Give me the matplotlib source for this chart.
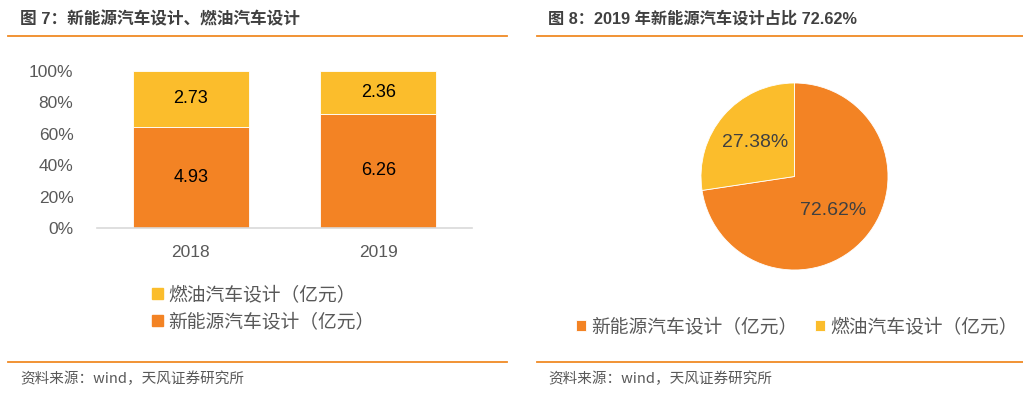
import numpy as np
import matplotlib
matplotlib.use("Agg")
import matplotlib.pyplot as plt
from matplotlib.lines import Line2D
from matplotlib.patches import Patch

plt.rcParams['font.family'] = ['Liberation Sans', 'Noto Sans CJK SC', 'DejaVu Sans']

# data
years = ['2018', '2019']
nev_design = [4.93, 6.26]     # 新能源汽车设计（亿元）
fuel_design = [2.73, 2.36]    # 燃油汽车设计（亿元）
yticks = [0, 0.2, 0.4, 0.6, 0.8, 1.0]
ytick_labels = ['0%', '20%', '40%', '60%', '80%', '100%']
pie_labels = ['新能源汽车设计（亿元）', '燃油汽车设计（亿元）']
pie_share = [72.62, 27.38]

ORANGE = '#F38324'
YELLOW = '#FBBD2C'
GRAY = '#595959'
DARK = '#404040'
LINE = '#F08A24'

fig = plt.figure(figsize=(10.23, 3.97), dpi=100)

def fx(px):
    return px / 1023.0

def fy(py):
    return 1 - py / 397.0

# titles and rules
fig.text(fx(20), fy(19), '图 7：新能源汽车设计、燃油汽车设计', fontsize=12,
         fontweight='bold', color=DARK, va='center', ha='left')
fig.text(fx(548), fy(19), '图 8：2019 年新能源汽车设计占比 72.62%', fontsize=11.7,
         fontweight='bold', color=DARK, va='center', ha='left')
for x0, x1 in [(8, 507), (537, 1023)]:
    fig.add_artist(Line2D([fx(x0), fx(x1)], [fy(36), fy(36)], color=LINE, lw=1.3))
    fig.add_artist(Line2D([fx(x0), fx(x1)], [fy(362), fy(362)], color=LINE, lw=1.3))
fig.text(fx(20), fy(379), '资料来源：wind，天风证券研究所', fontsize=10.5,
         color=GRAY, va='center', ha='left', family=['Noto Sans CJK SC'])
fig.text(fx(548), fy(379), '资料来源：wind，天风证券研究所', fontsize=10.5,
         color=GRAY, va='center', ha='left', family=['Noto Sans CJK SC'])

# stacked 100% bar chart
ax = fig.add_axes([fx(97), fy(228), fx(472) - fx(97), fy(71) - fy(228)])
nev = np.array(nev_design)
fuel = np.array(fuel_design)
total = nev + fuel
x = np.arange(len(years))
b1 = ax.bar(x, nev / total, width=0.62, color=ORANGE, edgecolor='white', linewidth=0.6)
b2 = ax.bar(x, fuel / total, width=0.62, bottom=nev / total, color=YELLOW,
            edgecolor='white', linewidth=0.6)
ax.bar_label(b1, labels=[f'{v:.2f}' for v in nev_design], label_type='center',
             fontsize=13, color='black')
ax.bar_label(b2, labels=[f'{v:.2f}' for v in fuel_design], label_type='center',
             fontsize=13, color='black')
ax.set_xlim(-0.5, 1.5)
ax.set_ylim(0, 1)
ax.set_yticks(yticks)
ax.set_yticklabels(ytick_labels)
ax.set_xticks(x)
ax.set_xticklabels(years)
ax.tick_params(axis='both', length=0, labelsize=12.5, labelcolor=GRAY)
ax.tick_params(axis='y', pad=17)
ax.tick_params(axis='x', pad=12)
for s in ['top', 'right', 'left']:
    ax.spines[s].set_visible(False)
ax.spines['bottom'].set_color('#D9D9D9')
ax.spines['bottom'].set_linewidth(1.2)

bar_handles = [Patch(color=YELLOW), Patch(color=ORANGE)]
fig.legend(bar_handles, ['燃油汽车设计（亿元）', '新能源汽车设计（亿元）'],
           loc='upper left', bbox_to_anchor=(fx(143), fy(277)), frameon=False,
           fontsize=13.5, handlelength=0.55, handleheight=0.55, handletextpad=0.3,
           labelspacing=0.45, borderpad=0, labelcolor=GRAY)

# pie chart
pax = fig.add_axes([fx(701), fy(270), fx(888) - fx(701), fy(83) - fy(270)])
wedges, _, autotexts = pax.pie(pie_share, colors=[ORANGE, YELLOW], startangle=90,
                               counterclock=False, autopct='%.2f%%', pctdistance=0.55,
                               wedgeprops=dict(edgecolor='white', linewidth=0.6),
                               textprops=dict(fontsize=14, color=DARK))
pax.set_xlim(-1, 1)
pax.set_ylim(-1, 1)
fig.legend(wedges, pie_labels, loc='center', bbox_to_anchor=(fx(797), fy(327)),
           ncol=2, frameon=False, fontsize=13.5, handlelength=0.55, handleheight=0.55,
           handletextpad=0.3, columnspacing=0.9, borderpad=0, labelcolor=GRAY)

fig.savefig('out.png', dpi=100)
